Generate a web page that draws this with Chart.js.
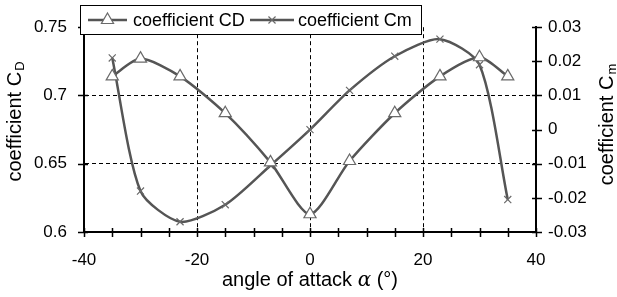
<!DOCTYPE html>
<html>
<head>
<meta charset="utf-8">
<script src="https://cdn.jsdelivr.net/npm/chart.js@4.4.1/dist/chart.umd.min.js"></script>
<style>
  html, body { margin: 0; padding: 0; background: #fff; }
  #wrap { width: 617px; height: 297px; }
</style>
</head>
<body>
<div id="wrap"><canvas id="coefChart"></canvas></div>
<script>
// angle of attack (deg)
const angles = [-35, -30, -23, -15, -7, 0, 7, 15, 23, 30, 35];
// drag coefficient CD (left axis)
const cdValues = [0.714, 0.727, 0.714, 0.687, 0.651, 0.613, 0.652, 0.687, 0.714, 0.728, 0.714];
// moment coefficient Cm (right axis)
const cmValues = [0.021, -0.018, -0.027, -0.022, -0.0105, 0.0, 0.0115, 0.0215, 0.0265, 0.019, -0.0205];

const xTickLabels = [-40, -20, 0, 20, 40];
const cdTicks = [0.6, 0.65, 0.7, 0.75];
const cmTicks = [-0.03, -0.02, -0.01, 0, 0.01, 0.02, 0.03];

const FONT = '"Liberation Sans", Arial, sans-serif';
const LINE = '#555555';
const MARK = '#6a6a6a';

const toPoints = (xs, ys) => xs.map((x, i) => ({ x: x, y: ys[i] }));

// crossing tick marks, legend box and axis titles
const decorations = {
  id: 'decorations',
  afterDraw(chart) {
    const ctx = chart.ctx;
    const { x, yCD, yCm } = chart.scales;
    const area = chart.chartArea;
    ctx.save();
    ctx.strokeStyle = '#000';
    ctx.lineWidth = 1.5;
    ctx.beginPath();
    x.ticks.forEach(t => {
      const px = Math.round(x.getPixelForValue(t.value)) + 0.5;
      ctx.moveTo(px, area.bottom - 4);
      ctx.lineTo(px, area.bottom + 5);
    });
    yCD.ticks.forEach(t => {
      const py = Math.round(yCD.getPixelForValue(t.value)) + 0.5;
      ctx.moveTo(area.left - 6, py);
      ctx.lineTo(area.left + 4, py);
    });
    yCm.ticks.forEach(t => {
      const py = Math.round(yCm.getPixelForValue(t.value)) + 0.5;
      ctx.moveTo(area.right - 4, py);
      ctx.lineTo(area.right + 6, py);
    });
    ctx.stroke();

    // legend
    ctx.fillStyle = '#fff';
    ctx.fillRect(80, 5, 341, 29);
    ctx.lineWidth = 1;
    ctx.strokeStyle = '#000';
    ctx.strokeRect(80.5, 5.5, 341, 29);

    const items = [
      { ds: chart.data.datasets[0], x0: 88, x1: 127, tx: 133 },
      { ds: chart.data.datasets[1], x0: 250, x1: 294, tx: 298 }
    ];
    items.forEach(it => {
      ctx.strokeStyle = LINE;
      ctx.lineWidth = 2.5;
      ctx.beginPath();
      ctx.moveTo(it.x0, 20);
      ctx.lineTo(it.x1, 20);
      ctx.stroke();
      ctx.fillStyle = '#fff';
      ctx.strokeStyle = MARK;
      ctx.lineWidth = 1.2;
      Chart.helpers.drawPoint(ctx, {
        pointStyle: it.ds.pointStyle, radius: it.ds.pointRadius, rotation: 0, borderWidth: 1.2
      }, (it.x0 + it.x1) / 2, 20);
      ctx.fillStyle = '#000';
      ctx.font = '18px ' + FONT;
      ctx.textBaseline = 'middle';
      ctx.textAlign = 'left';
      ctx.fillText(it.ds.label, it.tx, 21);
    });

    // axis titles
    const rotTitle = (cx, cy, sub) => {
      ctx.save();
      ctx.translate(cx, cy);
      ctx.rotate(-Math.PI / 2);
      ctx.fillStyle = '#000';
      ctx.textBaseline = 'alphabetic';
      ctx.textAlign = 'left';
      ctx.font = '20px ' + FONT;
      const main = 'coefficient C';
      const w1 = ctx.measureText(main).width;
      ctx.font = '13px ' + FONT;
      const w2 = ctx.measureText(sub).width;
      const start = -(w1 + w2) / 2;
      ctx.font = '20px ' + FONT;
      ctx.fillText(main, start, 7);
      ctx.font = '13px ' + FONT;
      ctx.fillText(sub, start + w1 + 1, 10);
      ctx.restore();
    };
    rotTitle(14, 122, 'D');
    rotTitle(606, 125, 'm');

    ctx.textBaseline = 'alphabetic';
    ctx.textAlign = 'left';
    const p1 = 'angle of attack ', p2 = '\u03b1', p3 = ' (\u00b0)';
    ctx.font = '20px ' + FONT;
    const w1 = ctx.measureText(p1).width, w3 = ctx.measureText(p3).width;
    ctx.font = 'italic 20px "DejaVu Serif", serif';
    const w2 = ctx.measureText(p2).width;
    let sx = 310 - (w1 + w2 + w3) / 2;
    ctx.fillStyle = '#000';
    ctx.font = '20px ' + FONT;
    ctx.fillText(p1, sx, 286);
    ctx.font = 'italic 20px "DejaVu Serif", serif';
    ctx.fillText(p2, sx + w1, 286);
    ctx.font = '20px ' + FONT;
    ctx.fillText(p3, sx + w1 + w2, 286);
    ctx.restore();
  }
};

new Chart(document.getElementById('coefChart'), {
  type: 'line',
  data: {
    datasets: [{
      label: 'coefficient CD',
      data: toPoints(angles, cdValues),
      yAxisID: 'yCD',
      borderColor: LINE,
      borderWidth: 2.5,
      tension: 0.25,
      pointStyle: 'triangle',
      pointRadius: 7,
      pointBackgroundColor: '#fff',
      pointBorderColor: MARK,
      pointBorderWidth: 1.2
    }, {
      label: 'coefficient Cm',
      data: toPoints(angles, cmValues),
      yAxisID: 'yCm',
      borderColor: LINE,
      borderWidth: 2.5,
      tension: 0.25,
      pointStyle: 'crossRot',
      pointRadius: 5,
      pointBackgroundColor: '#fff',
      pointBorderColor: MARK,
      pointBorderWidth: 1.2
    }]
  },
  options: {
    responsive: true,
    maintainAspectRatio: false,
    animation: false,
    layout: { padding: { top: 20, left: 0, right: 0, bottom: 0 } },
    plugins: { legend: { display: false }, tooltip: { enabled: false } },
    scales: {
      x: {
        type: 'linear',
        min: -40, max: 40,
        afterFit: s => { s.height = 65; },
        ticks: {
          stepSize: 5,
          autoSkip: false,
          maxRotation: 0,
          padding: 18,
          color: '#000',
          font: { family: FONT, size: 17 },
          callback: v => xTickLabels.includes(v) ? String(v) : ''
        },
        grid: {
          drawTicks: false,
          color: c => (c.tick && c.tick.value % 20 === 0 && Math.abs(c.tick.value) !== 40) ? '#000' : 'rgba(0,0,0,0)',
          lineWidth: 1
        },
        border: { display: true, color: '#000', width: 2, dash: [4, 3] }
      },
      yCD: {
        type: 'linear',
        position: 'left',
        min: 0.6, max: 0.75,
        afterFit: s => { s.width = 84; },
        afterBuildTicks: s => { s.ticks = cdTicks.map(v => ({ value: v })); },
        ticks: {
          padding: 17,
          color: '#000',
          font: { family: FONT, size: 17 },
          callback: v => String(v)
        },
        grid: {
          drawTicks: false,
          color: c => (c.tick && c.tick.value > 0.61 && c.tick.value < 0.74) ? '#000' : 'rgba(0,0,0,0)',
          lineWidth: 1
        },
        border: { display: true, color: '#000', width: 2, dash: [4, 3] }
      },
      yCm: {
        type: 'linear',
        position: 'right',
        min: -0.03, max: 0.03,
        afterFit: s => { s.width = 81; },
        afterBuildTicks: s => { s.ticks = cmTicks.map(v => ({ value: v })); },
        ticks: {
          padding: 12,
          color: '#000',
          font: { family: FONT, size: 17 },
          callback: v => String(v)
        },
        grid: { display: false, drawTicks: false },
        border: { display: true, color: '#000', width: 2 }
      }
    }
  },
  plugins: [decorations]
});
</script>
</body>
</html>
